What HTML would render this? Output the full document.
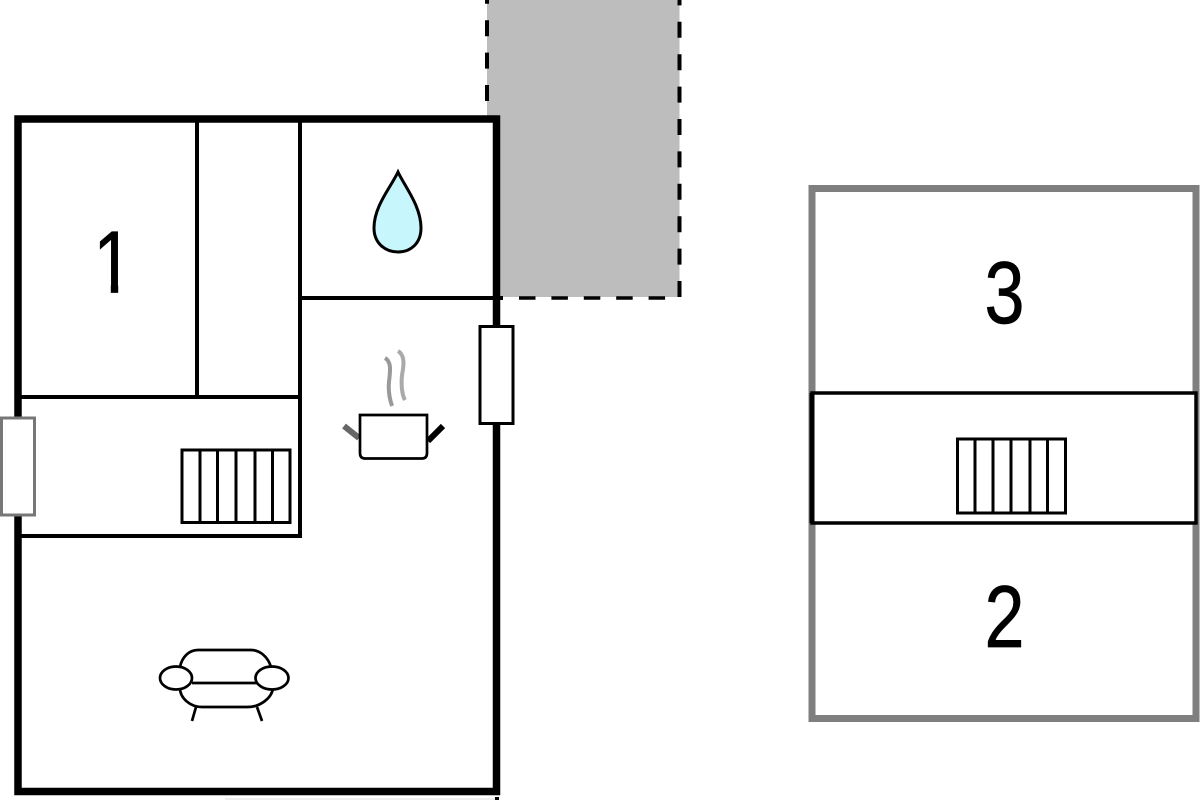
<!DOCTYPE html>
<html>
<head>
<meta charset="utf-8">
<style>
html,body{margin:0;padding:0;background:#fff;width:1200px;height:800px;overflow:hidden}
svg{display:block}
text{font-family:"Liberation Sans",sans-serif;font-size:88px;fill:#000;stroke:#000;stroke-width:.7;text-anchor:middle}
</style>
</head>
<body>
<svg width="1200" height="800" viewBox="0 0 1200 800" xmlns="http://www.w3.org/2000/svg">
<rect width="1200" height="800" fill="#fff"/>

<!-- Gray dashed annex -->
<rect x="487" y="-5" width="192.500" height="302" fill="#bdbdbd"/>
<g fill="none" stroke="#000" stroke-width="4">
<path d="M487 101V-20" stroke-dasharray="16 16.400"/>
<path d="M679.500 297V-20" stroke-dasharray="16 16.400"/>
<path d="M519 298H670" stroke-width="3.500" stroke-dasharray="16.500 15.900"/>
</g>

<!-- Room interior clears the gray -->
<rect x="18" y="119" width="478" height="672" fill="#fff"/>

<!-- Main plan interior walls -->
<g fill="none" stroke="#000" stroke-width="4">
<path d="M197 120V397"/>
<path d="M300 120V536"/>
<path d="M18 397H300"/>
<path d="M18 536H302"/>
<path d="M300 298H503"/>
</g>

<!-- Main outer wall -->
<rect x="18" y="119" width="478.500" height="672.500" fill="none" stroke="#000" stroke-width="7.500"/>
<rect x="225" y="798" width="272" height="2" fill="#eee"/>
<rect x="495" y="797" width="4" height="3" fill="#000"/>

<!-- Windows -->
<rect x="1.500" y="418" width="33" height="97" fill="#fff" stroke="#777" stroke-width="3"/>
<rect x="480" y="326.500" width="33" height="97" fill="#fff" stroke="#000" stroke-width="3"/>

<!-- Stairs left -->
<g fill="none" stroke="#000" stroke-width="3">
<rect x="182" y="450" width="108" height="72.500"/>
<path d="M200 450V522M217.500 450V522M236 450V522M255 450V522M272.500 450V522"/>
</g>

<!-- Water drop -->
<path d="M398 172C391 187 374 206 374 228C374 243 385 252 398 252C411 252 421 243 421 228C421 206 405 187 398 172Z" fill="#c8f6fd" stroke="#000" stroke-width="3"/>

<!-- Pot -->
<path d="M385 358C392 362 390 372 389 382C388 392 390 400 392 406" fill="none" stroke="#999" stroke-width="4"/>
<path d="M398 351C405 355 404 365 402 375C401 385 402 395 405 400" fill="none" stroke="#aaa" stroke-width="4"/>
<path d="M344 426L359 438" stroke="#666" stroke-width="6" fill="none"/>
<path d="M428 441L443 426" stroke="#000" stroke-width="6" fill="none"/>
<path d="M360 415H427V453Q427 458.500 422 458.500H365Q360 458.500 360 453Z" fill="#fff" stroke="#000" stroke-width="2.700"/>

<!-- Armchair -->
<g fill="#fff" stroke="#000" stroke-width="2.700">
<path d="M180 667C182 657 189 650 198 650H251C260 650 268 657 271 667"/>
<path d="M180 688C180 698 190 707 202 707H248C260 707 272 698 273 688"/>
<path d="M192 683H258" fill="none"/>
<ellipse cx="176" cy="678" rx="16" ry="11.500"/>
<ellipse cx="272" cy="678" rx="16.500" ry="11.500"/>
<path d="M196 707L192 721M257 707L262 721" fill="none"/>
</g>

<!-- Right plan -->
<rect x="812" y="188.500" width="384" height="530" fill="none" stroke="#7f7f7f" stroke-width="7"/>
<rect x="812" y="393" width="384" height="130" fill="#fff" stroke="#000" stroke-width="3.500"/>
<path d="M812 393V523" stroke="#000" stroke-width="5" fill="none"/>

<!-- Stairs right -->
<g fill="none" stroke="#000" stroke-width="3">
<rect x="957.500" y="439" width="108" height="74"/>
<path d="M975 439V513M993 439V513M1011 439V513M1030 439V513M1047.500 439V513"/>
</g>

<!-- Labels -->
<text x="113.200" y="292.500" textLength="40" lengthAdjust="spacingAndGlyphs">1</text>
<rect x="85" y="282" width="25.800" height="13" fill="#fff"/>
<rect x="118.200" y="282" width="22" height="13" fill="#fff"/>
<text x="1004.500" y="323" textLength="40" lengthAdjust="spacingAndGlyphs">3</text>
<text x="1004.500" y="647" textLength="40" lengthAdjust="spacingAndGlyphs">2</text>
</svg>
</body>
</html>
